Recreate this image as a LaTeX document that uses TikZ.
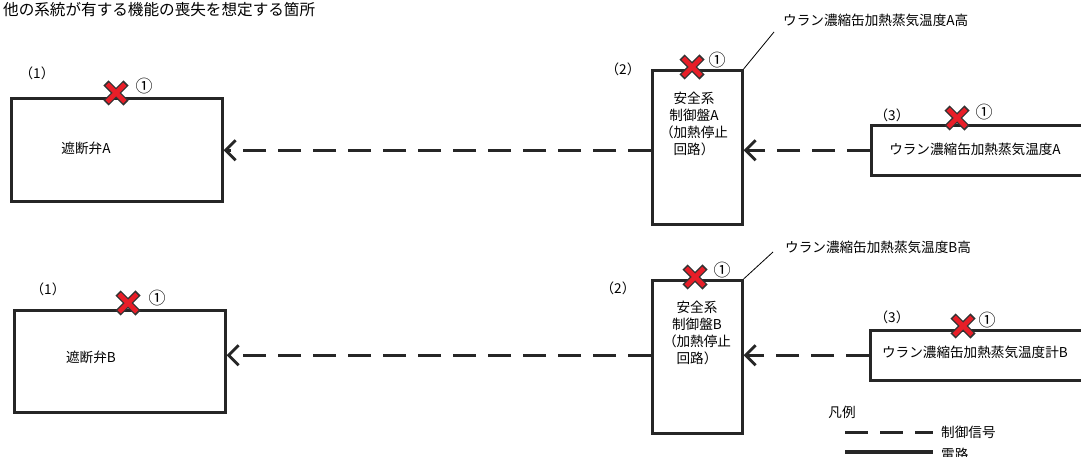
\documentclass[tikz,border=0pt]{standalone}
\usepackage{fontspec}
\setmainfont{Noto Sans CJK JP}
\usetikzlibrary{arrows.meta}
\definecolor{lossred}{RGB}{232,30,40}
\tikzset{
  box/.style={draw=black!85,line width=2.6pt,inner sep=0pt,anchor=north west},
  signal/.style={draw=black!85,line width=3pt,dash pattern=on 23pt off 12pt,
    -{Straight Barb[length=10pt,width=20pt,line width=2.8pt]}},
  lbl/.style={font=\fontsize{13.6}{17}\selectfont,inner sep=0pt},
  lossmark/.pic={
    \draw[line width=7.4pt,black!80] (-10,-10) -- (10,10) (-10,10) -- (10,-10);
    \draw[line width=4.6pt,lossred] (-8.8,-8.8) -- (8.8,8.8) (-8.8,8.8) -- (8.8,-8.8);}
}
\begin{document}
\begin{tikzpicture}[x=1pt,y=-1pt]
\useasboundingbox (0,0) rectangle (1081,457);
\clip (0,0) rectangle (1081,457);
\node[lbl,anchor=west,font=\fontsize{15.6}{17}\selectfont] (title) at (3,10) {他の系統が有する機能の喪失を想定する箇所};
% row A
\node[box,minimum width=211pt,minimum height=103pt] (valveA) at (10,97) {};
\node[box,minimum width=90pt,minimum height=154pt] (panelA) at (651,69) {};
\node[box,minimum width=222pt,minimum height=50pt] (sensorA) at (870,124) {};
\node[lbl] (valveAtext) at (86,148) {遮断弁A};
\node[lbl,align=center] (panelAtext) at (694,123.5) {安全系\\制御盤A\\（加熱停止\\回路）};
\node[lbl] (sensorAtext) at (975,149) {ウラン濃縮缶加熱蒸気温度A};
\node[lbl,anchor=west] (highA) at (783,20) {ウラン濃縮缶加熱蒸気温度A高};
\coordinate (leadA) at (774,32);
\draw[line width=0.8pt] (panelA.north east) -- (leadA);
\draw[signal] (sensorA.west) -- (sensorA.west -| panelA.east);
\draw[signal] (panelA.west |- sensorA.west) -- (valveA.east |- sensorA.west);
% row B
\node[box,minimum width=211pt,minimum height=102pt] (valveB) at (13,309) {};
\node[box,minimum width=90pt,minimum height=153pt] (panelB) at (651,279) {};
\node[box,minimum width=222pt,minimum height=50pt] (sensorB) at (869,329) {};
\node[lbl] (valveBtext) at (91,357) {遮断弁B};
\node[lbl,align=center] (panelBtext) at (697,332.5) {安全系\\制御盤B\\（加熱停止\\回路）};
\node[lbl] (sensorBtext) at (975,352) {ウラン濃縮缶加熱蒸気温度計B};
\node[lbl,anchor=west] (highB) at (785,247) {ウラン濃縮缶加熱蒸気温度B高};
\coordinate (leadB) at (773,252);
\draw[line width=0.8pt] (panelB.north east) -- (leadB);
\draw[signal] (sensorB.west) -- (sensorB.west -| panelB.east);
\draw[signal] (panelB.west |- sensorB.west) -- (valveB.east |- sensorB.west);
% item numbers
\node[lbl] (numA1) at (37,73) {（1）};
\node[lbl] (numB1) at (48,289) {（1）};
\node[lbl] (numA2) at (623,69) {（2）};
\node[lbl] (numB2) at (618,288) {（2）};
\node[lbl] (numA3) at (892,115) {（3）};
\node[lbl] (numB3) at (892,317) {（3）};
% loss marks
\foreach \p in {(116,93),(692,67),(957,118),(128,303),(695,277),(963,326)}
  \pic at \p {lossmark};
\foreach \p [count=\i] in {(144,86),(717,60),(984,112),(157,298),(722,270),(987,320)}
  \node[lbl,font=\fontsize{17}{18}\selectfont] (circ\i) at \p {①};
% legend
\node[lbl] (legend) at (842,412) {凡例};
\draw[draw=black!85,line width=3pt,dash pattern=on 23pt off 12pt] (845,432) -- (933,432);
\node[lbl,anchor=west] (legsignal) at (941,432) {制御信号};
\draw[draw=black!85,line width=3.6pt] (845,452) -- (933,452);
\node[lbl,anchor=west] (legwire) at (941,454) {電路};
\end{tikzpicture}
\end{document}
